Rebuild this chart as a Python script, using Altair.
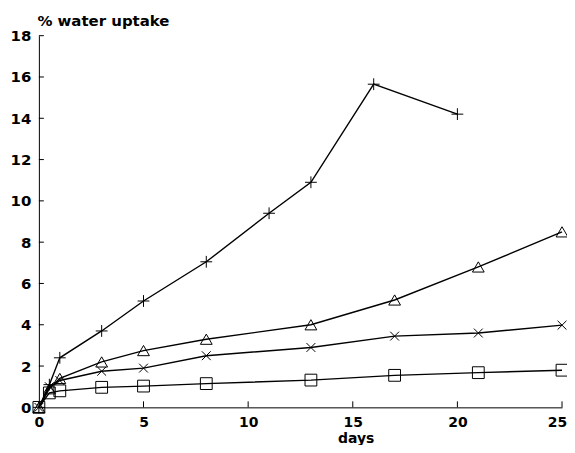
import altair as alt
import pandas as pd

# ---- data ----
days_plus = [0, 0.5, 1, 3, 5, 8, 11, 13, 16, 20]
uptake_plus = [0, 1.1, 2.4, 3.7, 5.15, 7.05, 9.4, 10.9, 15.65, 14.2]

days_tri = [0, 0.5, 1, 3, 5, 8, 13, 17, 21, 25]
uptake_tri = [0, 0.9, 1.4, 2.2, 2.75, 3.3, 4.0, 5.2, 6.8, 8.5]

days_x = [0, 0.5, 1, 3, 5, 8, 13, 17, 21, 25]
uptake_x = [0, 1.0, 1.3, 1.75, 1.9, 2.5, 2.9, 3.45, 3.6, 3.98]

days_sq = [0, 0.5, 1, 3, 5, 8, 13, 17, 21, 25]
uptake_sq = [0, 0.7, 0.8, 0.97, 1.03, 1.15, 1.32, 1.55, 1.68, 1.8]

series_names = ["plus", "triangle", "cross", "square"]
x_ticks = [0, 5, 10, 15, 20, 25]
y_ticks = [0, 2, 4, 6, 8, 10, 12, 14, 16, 18]

rows = []
for name, dd, vv in [("plus", days_plus, uptake_plus), ("triangle", days_tri, uptake_tri),
                     ("cross", days_x, uptake_x), ("square", days_sq, uptake_sq)]:
    for d, v in zip(dd, vv):
        rows.append({"series": name, "days": d, "uptake": v})
df = pd.DataFrame(rows)
xt_df = pd.DataFrame({"t": x_ticks[1:]})
yt_df = pd.DataFrame({"t": y_ticks[1:]})

FONT = "DejaVu Sans"
W, H = 525, 373

xscale = alt.Scale(domain=[0, 25], nice=False, zero=True)
yscale = alt.Scale(domain=[0, 18], nice=False)

shape_scale = alt.Scale(
    domain=series_names,
    range=["M-1,0H1M0,-1V1", "triangle-up", "M-0.75,-0.75L0.75,0.75M0.75,-0.75L-0.75,0.75", "square"],
)

base = alt.Chart(df)

lines = base.mark_line(color="black", strokeWidth=1.4, interpolate="linear").encode(
    x=alt.X("days:Q", scale=xscale,
            axis=alt.Axis(values=x_ticks, tickSize=0, labelPadding=8, labelFlush=False,
                          labelOffset={"condition": {"test": "datum.value == 25", "value": -5}, "value": 0},
                          domainColor="black", domainWidth=1, grid=False, labelFont=FONT,
                          labelFontSize=14, labelFontWeight="bold", labelColor="black",
                          title="days", titleFont=FONT, titleFontSize=14, titleFontWeight="bold",
                          titleColor="black", titleX=318, titleY=35, titleAlign="center",
                          titleBaseline="alphabetic")),
    y=alt.Y("uptake:Q", scale=yscale,
            axis=alt.Axis(values=y_ticks, tickSize=0, labelPadding=8, labelFlush=False,
                          domainColor="black", domainWidth=1, grid=False, labelFont=FONT,
                          labelFontSize=15, labelFontWeight="bold", labelColor="black",
                          title="% water uptake", titleFont=FONT, titleFontSize=15,
                          titleFontWeight="bold", titleColor="black", titleAngle=0,
                          titleAlign="left", titleBaseline="alphabetic", titleX=-2, titleY=-10)),
    detail="series:N",
)

points = base.mark_point(filled=False, color="black", strokeWidth=1, opacity=1).encode(
    x=alt.X("days:Q", scale=xscale),
    y=alt.Y("uptake:Q", scale=yscale),
    shape=alt.Shape("series:N", scale=shape_scale, legend=None),
    size=alt.value(140),
)

# inward ticks
xticks_layer = alt.Chart(xt_df).mark_rule(color="black", strokeWidth=1).encode(
    x=alt.X("t:Q", scale=xscale),
    y=alt.value(H),
    y2=alt.value(H - 6),
)
yticks_layer = alt.Chart(yt_df).mark_rule(color="black", strokeWidth=1).encode(
    y=alt.Y("t:Q", scale=yscale),
    x=alt.value(0),
    x2=alt.value(5),
)

chart = alt.layer(lines, points, xticks_layer, yticks_layer).properties(
    width=W, height=H,
    autosize=alt.AutoSizeParams(type="none"),
    padding={"left": 31, "top": 27, "right": 5, "bottom": 37},
    background="white",
).configure_view(stroke=None)

chart.save("out.html", embed_options={"renderer": "svg", "actions": False})
